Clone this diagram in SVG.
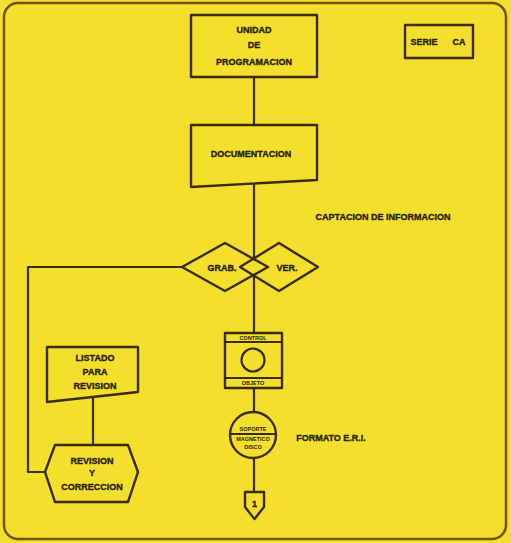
<svg xmlns="http://www.w3.org/2000/svg" width="511" height="543" viewBox="0 0 511 543">
<style>
.bg{fill:#f4df2c}
.s{fill:none;stroke:#3a2c0c;stroke-width:2.2;stroke-linejoin:round}
.f{fill:#f4df2c;stroke:#3a2c0c;stroke-width:2.4;stroke-linejoin:round}
.t{font-family:"Liberation Sans",Arial,sans-serif;font-weight:bold;font-size:9px;fill:#2a1f08;text-anchor:middle;stroke:#2a1f08;stroke-width:0.35}
.ts{font-family:"Liberation Sans",Arial,sans-serif;font-weight:bold;font-size:5.5px;fill:#2a1f08;text-anchor:middle}
</style>
<rect x="0" y="0" width="511" height="543" class="bg"/>
<rect x="4" y="3" width="502" height="536" rx="14" fill="none" stroke="#6b5410" stroke-width="2.5"/>
<g id="connectors" class="s">
<line x1="254" y1="77" x2="254" y2="126"/>
<line x1="254" y1="184" x2="254" y2="333"/>
<line x1="254" y1="388" x2="254" y2="413"/>
<line x1="254" y1="458" x2="254" y2="492"/>
<polyline points="182,267 28,267 28,472 45,472"/>
<line x1="93" y1="397" x2="93" y2="445"/>
</g>
<g id="unidad">
<rect x="191" y="15" width="126" height="62" class="f"/>
<text class="t" x="254" y="33">UNIDAD</text>
<text class="t" x="254" y="48">DE</text>
<text class="t" x="254" y="65">PROGRAMACION</text>
</g>
<g id="serie">
<rect x="405" y="25" width="68" height="33" class="f"/>
<text class="t" x="424" y="45">SERIE</text>
<text class="t" x="459" y="45">CA</text>
</g>
<g id="documentacion">
<path d="M191,125 L317,125 L317,180 L191,187 Z" class="f"/>
<text class="t" x="251" y="157">DOCUMENTACION</text>
</g>
<g id="captacion">
<text class="t" x="383" y="220">CAPTACION DE INFORMACION</text>
</g>
<g id="grab">
<path d="M182,267 L225,243 L268,267 L225,291 Z" class="f"/>
<text class="t" x="222" y="271">GRAB.</text>
</g>
<g id="ver">
<path d="M240,267 L279,243 L318,267 L279,291 Z" class="f" fill-opacity="0"/>
<text class="t" x="287" y="271">VER.</text>
</g>
<g id="control">
<rect x="225" y="333" width="57" height="55" class="f"/>
<line x1="225" y1="342" x2="282" y2="342" class="s"/>
<line x1="225" y1="378" x2="282" y2="378" class="s"/>
<circle cx="253" cy="360" r="11.5" class="s"/>
<text class="ts" x="253" y="340">CONTROL</text>
<text class="ts" x="253" y="385">OBJETO</text>
</g>
<g id="soporte">
<circle cx="253" cy="435" r="23" class="f"/>
<line x1="231" y1="434" x2="275" y2="434" class="s" stroke-width="1.6"/>
<text class="ts" x="253" y="431">SOPORTE</text>
<text class="ts" x="253" y="441">MAGNETICO</text>
<text class="ts" x="253" y="449">DISCO</text>
</g>
<g id="formato">
<text class="t" x="331" y="441">FORMATO E.R.I.</text>
</g>
<g id="listado">
<path d="M47,347 L138,347 L138,392 L47,402 Z" class="f"/>
<text class="t" x="95" y="361">LISTADO</text>
<text class="t" x="95" y="375">PARA</text>
<text class="t" x="95" y="389">REVISION</text>
</g>
<g id="revision">
<path d="M55,445 L128,445 L138,472 L128,502 L55,502 L45,472 Z" class="f"/>
<text class="t" x="92" y="464">REVISION</text>
<text class="t" x="92" y="476">Y</text>
<text class="t" x="92" y="490">CORRECCION</text>
</g>
<g id="conector1">
<path d="M245,492 L264,492 L264,507 L254.5,519 L245,507 Z" class="f"/>
<text class="t" x="254.5" y="507">1</text>
</g>
</svg>
